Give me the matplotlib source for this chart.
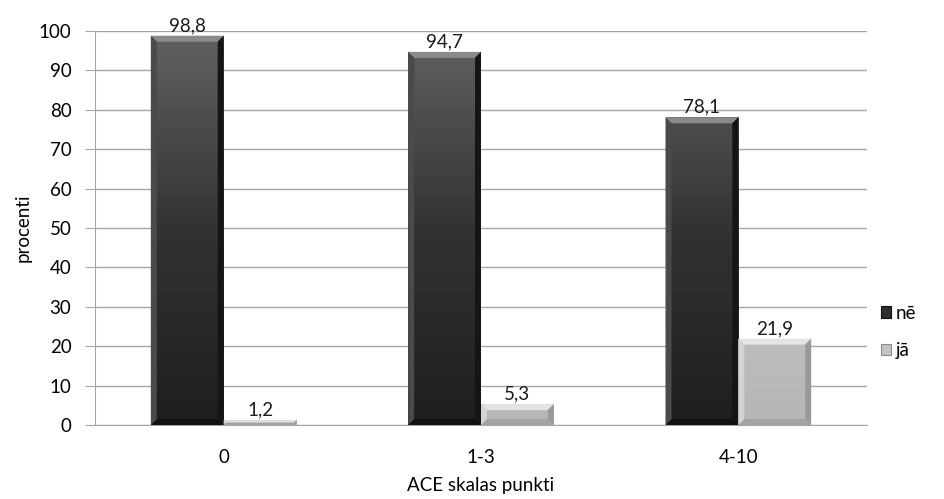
import numpy as np
import matplotlib
matplotlib.use("Agg")
import matplotlib.pyplot as plt
from matplotlib.patches import Polygon, Patch
from matplotlib.colors import LinearSegmentedColormap

categories = ["0", "1-3", "4-10"]
series_names = ["nē", "jā"]
ne_values = [98.8, 94.7, 78.1]
ja_values = [1.2, 5.3, 21.9]
y_ticks = [0, 10, 20, 30, 40, 50, 60, 70, 80, 90, 100]

plt.rcParams["font.family"] = ["Lato", "DejaVu Sans"]
FS = 13.5

fig = plt.figure(figsize=(9.44, 4.99), dpi=100)
ax = fig.add_axes([95 / 944, 1 - 425 / 499, 772 / 944, 394 / 499])

x = np.arange(len(categories))
w = 0.283
dark_bars = ax.bar(x - w / 2, ne_values, w, color="#3a3a3a", zorder=3)
light_bars = ax.bar(x + w / 2, ja_values, w, color="#bfbfbf", zorder=3)

ax.set_xlim(-0.5, len(categories) - 0.5)
ax.set_ylim(0, 100)
ax.set_yticks(y_ticks)
ax.set_xticks(x)
ax.set_xticklabels(categories)
ax.yaxis.grid(True, color="#a6a6a6", linewidth=1.0, zorder=0)
for s in ["top", "right"]:
    ax.spines[s].set_visible(False)
ax.spines["left"].set_color("#a6a6a6")
ax.spines["bottom"].set_color("#a6a6a6")
ax.tick_params(axis="y", length=7, color="#a6a6a6", labelsize=FS, pad=10)
ax.tick_params(axis="x", length=0, labelsize=FS, pad=17)
ax.set_ylabel("procenti", fontsize=FS, labelpad=5)
ax.set_xlabel("ACE skalas punkti", fontsize=FS, labelpad=8)

fig.canvas.draw()
to_data = ax.transData.inverted()


def shade(bars, cmap, top_c, left_c, right_c, bottom_c, bev=6):
    for b in bars:
        x0, y0 = b.get_x(), b.get_y()
        x1, y1 = x0 + b.get_width(), y0 + b.get_height()
        # vertical gradient body clipped to the bar
        grad = np.linspace(0, 1, 256).reshape(-1, 1)
        im = ax.imshow(grad, cmap=cmap, extent=(x0, x1, 0, 100), origin="lower",
                       aspect="auto", zorder=3.5)
        im.set_clip_path(b)
        (px0, py0), (px1, py1) = ax.transData.transform([(x0, y0), (x1, y1)])
        bv = min(bev, (py1 - py0) / 2)
        outer = [(px0, py1), (px1, py1), (px1, py0), (px0, py0)]
        inner = [(px0 + bv, py1 - bv), (px1 - bv, py1 - bv),
                 (px1 - bv, py0 + bv), (px0 + bv, py0 + bv)]
        sides = [
            ([outer[0], outer[1], inner[1], inner[0]], top_c),
            ([outer[1], outer[2], inner[2], inner[1]], right_c),
            ([outer[2], outer[3], inner[3], inner[2]], bottom_c),
            ([outer[3], outer[0], inner[0], inner[3]], left_c),
        ]
        for pts, c in sides:
            ax.add_patch(Polygon(to_data.transform(pts), closed=True,
                                 facecolor=c, edgecolor="none", zorder=4))
    ax.set_xlim(-0.5, len(categories) - 0.5)
    ax.set_ylim(0, 100)


dark_cmap = LinearSegmentedColormap.from_list("d", ["#1e1e1e", "#333333", "#626262"])
light_cmap = LinearSegmentedColormap.from_list("l", ["#b6b6b6", "#c6c6c6", "#d0d0d0"])
shade(dark_bars, dark_cmap, "#8a8a8a", "#4a4a4a", "#151515", "#111111")
shade(light_bars, light_cmap, "#e4e4e4", "#d4d4d4", "#9a9a9a", "#a4a4a4")

for bars, vals in [(dark_bars, ne_values), (light_bars, ja_values)]:
    for b, v in zip(bars, vals):
        ax.text(b.get_x() + b.get_width() / 2, v + 0.4,
                f"{v:.1f}".replace(".", ","), ha="center", va="bottom",
                fontsize=FS, color="#1a1a1a", zorder=5)

handles = [Patch(facecolor="#2e2e2e", edgecolor="#111111", linewidth=0.8),
           Patch(facecolor="#c4c4c4", edgecolor="#8c8c8c", linewidth=0.8)]
fig.legend(handles, series_names, loc="center left",
           bbox_to_anchor=(864 / 944, 1 - 332 / 499), frameon=False,
           fontsize=FS, handlelength=0.55, handleheight=0.55,
           handletextpad=0.25, labelspacing=1.1)

fig.savefig("out.png", dpi=100)
